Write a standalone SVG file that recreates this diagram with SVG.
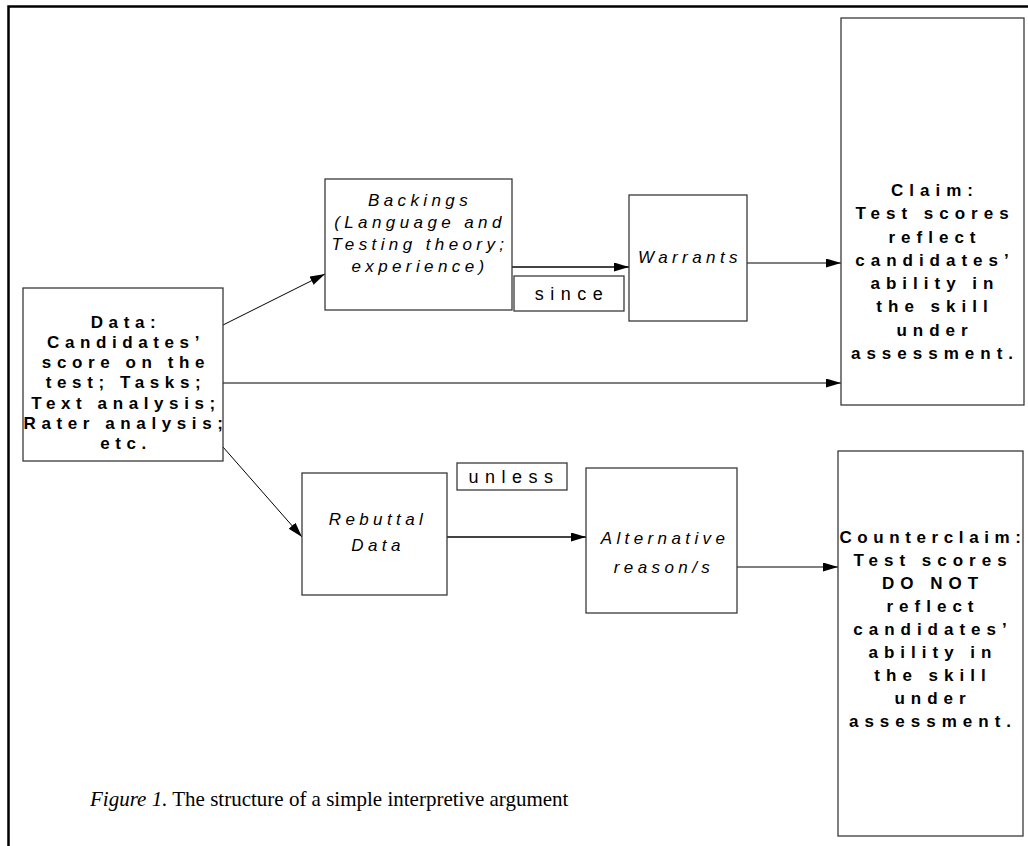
<svg xmlns="http://www.w3.org/2000/svg" width="1028" height="846" viewBox="0 0 1028 846">
<style>
.box{fill:#fff;stroke:#3a3a3a;stroke-width:1.3}
.b{font-family:"Liberation Sans",Arial,sans-serif;font-weight:bold;font-size:17px;fill:#000;text-anchor:middle;letter-spacing:5.6px}
.bc{letter-spacing:6px}
.i{font-family:"Liberation Sans",Arial,sans-serif;font-style:italic;font-size:17px;fill:#000;text-anchor:middle;letter-spacing:4.4px}
.r{font-family:"Liberation Sans",Arial,sans-serif;font-size:18px;fill:#000;text-anchor:middle;letter-spacing:6.5px}
.cap{font-family:"Liberation Serif","Times New Roman",serif;font-size:21px;fill:#000}
.c{fill:none;stroke:#000;stroke-width:1}
.c2{fill:none;stroke:#444;stroke-width:2.2}
</style>
<defs>
<marker id="ah" markerUnits="userSpaceOnUse" markerWidth="16" markerHeight="10" refX="15" refY="4.5" orient="auto">
<path d="M0,0 L15,4.5 L0,9 z" fill="#000"/>
</marker>
</defs>
<rect width="1028" height="846" fill="#fff"/>
<path d="M8.5,846 V6.5 H1028" fill="none" stroke="#000" stroke-width="2.5"/>

<g id="connectors">
<line class="c" x1="223" y1="325" x2="325" y2="274" marker-end="url(#ah)"/>
<line class="c" x1="223" y1="383" x2="841" y2="383" marker-end="url(#ah)"/>
<line class="c" x1="223" y1="447" x2="302" y2="537" marker-end="url(#ah)"/>
<line class="c2" x1="512" y1="267" x2="629" y2="267" marker-end="url(#ah)"/>
<line class="c" x1="747" y1="263" x2="841" y2="263" marker-end="url(#ah)"/>
<line class="c2" x1="447" y1="537" x2="586" y2="537" marker-end="url(#ah)"/>
<line class="c" x1="737" y1="567" x2="838" y2="567" marker-end="url(#ah)"/>
</g>

<g id="data">
<rect class="box" x="23" y="288" width="200" height="173"/>
<text class="b" x="126" y="328">Data:</text>
<text class="b" x="126" y="348">Candidates’</text>
<text class="b" x="126" y="368">score on the</text>
<text class="b" x="126" y="388">test; Tasks;</text>
<text class="b" x="126" y="409">Text analysis;</text>
<text class="b" x="126" y="429">Rater analysis;</text>
<text class="b" x="126" y="449">etc.</text>
</g>

<g id="backings">
<rect class="box" x="325" y="179" width="187" height="131"/>
<text class="i" x="420" y="206">Backings</text>
<text class="i" x="420" y="228">(Language and</text>
<text class="i" x="420" y="250">Testing theory;</text>
<text class="i" x="420" y="272">experience)</text>
</g>

<g id="since">
<rect class="box" x="514" y="276" width="110" height="35" stroke-width="2"/>
<text class="r" x="572" y="300">since</text>
</g>

<g id="warrants">
<rect class="box" x="629" y="195" width="118" height="126"/>
<text class="i" x="690" y="263">Warrants</text>
</g>

<g id="claim">
<rect class="box" x="841" y="18" width="183" height="387"/>
<text class="b bc" x="935" y="196">Claim:</text>
<text class="b bc" x="935" y="219">Test scores</text>
<text class="b bc" x="935" y="243">reflect</text>
<text class="b bc" x="935" y="266">candidates’</text>
<text class="b bc" x="935" y="289">ability in</text>
<text class="b bc" x="935" y="312">the skill</text>
<text class="b bc" x="935" y="336">under</text>
<text class="b bc" x="935" y="359">assessment.</text>
</g>

<g id="rebuttal">
<rect class="box" x="302" y="473" width="145" height="122"/>
<text class="i" x="378" y="525" letter-spacing="7px">Rebuttal</text>
<text class="i" x="378" y="551" letter-spacing="7px">Data</text>
</g>

<g id="unless">
<rect class="box" x="457" y="463" width="110" height="27" stroke-width="2"/>
<text class="r" x="514" y="483">unless</text>
</g>

<g id="alternative">
<rect class="box" x="586" y="468" width="151" height="145"/>
<text class="i" x="665" y="544" letter-spacing="6.5px">Alternative</text>
<text class="i" x="664" y="573" letter-spacing="6px">reason/s</text>
</g>

<g id="counterclaim">
<rect class="box" x="838" y="451" width="185" height="385"/>
<text class="b" x="933" y="543">Counterclaim:</text>
<text class="b bc" x="933" y="566">Test scores</text>
<text class="b bc" x="933" y="589">DO NOT</text>
<text class="b bc" x="933" y="612">reflect</text>
<text class="b bc" x="933" y="635">candidates’</text>
<text class="b bc" x="933" y="658">ability in</text>
<text class="b bc" x="933" y="681">the skill</text>
<text class="b bc" x="933" y="704">under</text>
<text class="b bc" x="933" y="727">assessment.</text>
</g>

<text class="cap" x="90" y="806"><tspan font-style="italic">Figure 1.</tspan> The structure of a simple interpretive argument</text>
</svg>
